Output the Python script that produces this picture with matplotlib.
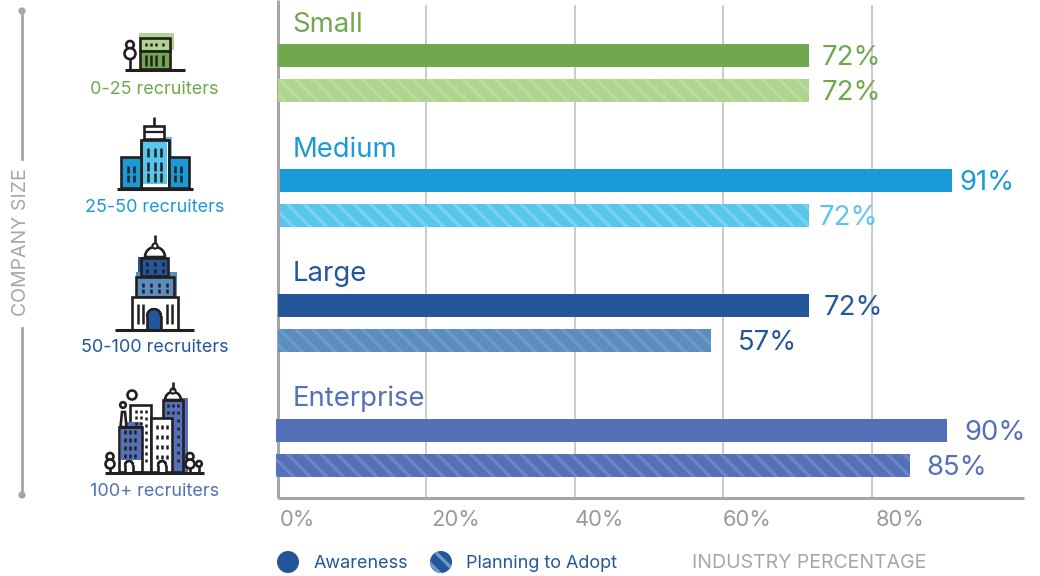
"""Recruiting tools: awareness vs planning to adopt, by company size."""
import matplotlib

matplotlib.use("Agg")

import matplotlib.pyplot as plt
from matplotlib.patches import Circle, Rectangle, Polygon, Wedge

plt.rcParams["font.family"] = ["Inter", "DejaVu Sans"]
plt.rcParams["hatch.linewidth"] = 2.4

W, H = 1040, 576

GREY = "#A6A6A6"
GRID = "#BDBDBD"
TICK = "#9A9A9A"
INK = "#231F20"
GREEN, GREEN_L, GREEN_S = "#70A84E", "#AFD48E", "#BCDBA1"
SKY, SKY_L, SKY_S = "#1A9AD7", "#58C6EC", "#79D2F0"
NAVY, NAVY_L, NAVY_S = "#23569A", "#5B8DBF", "#6F9AC6"
INDIGO, INDIGO_L, INDIGO_S = "#5470B8", "#5470B8", "#6C85C4"

# data
sizes = ["Small", "Medium", "Large", "Enterprise"]
ranges = ["0-25 recruiters", "25-50 recruiters", "50-100 recruiters", "100+ recruiters"]
awareness = [71.6, 90.8, 71.6, 90.2]
adopt = [71.6, 71.6, 58.3, 85.2]
awareness_labels = ["72%", "91%", "72%", "90%"]
adopt_labels = ["72%", "72%", "57%", "85%"]
awareness_left = [0.0, 0.25, 0.0, -0.3]
adopt_left = [0.0, 0.25, 0.0, -0.3]
ticks = [0, 20, 40, 60, 80]
tick_labels = ["0%", "20%", "40%", "60%", "80%"]

solid_colours = [GREEN, SKY, NAVY, INDIGO]
fill_colours = [GREEN_L, SKY_L, NAVY_L, INDIGO_L]
stripe_colours = [GREEN_S, SKY_S, NAVY_S, INDIGO_S]
adopt_text = [GREEN, SKY_L, NAVY, INDIGO]

fig = plt.figure(figsize=(W / 100, H / 100), dpi=100)
fig.patch.set_facecolor("white")


def fs(px):
    return px * 0.72


# chart axes: x in percent, y in groups (125 px apart)
PX_PCT = 7.42
X0, X1, Y_BOT = 278, 1024, 498
ax = fig.add_axes([X0 / W, 1 - Y_BOT / H, (X1 - X0) / W, Y_BOT / H])
ax.set_xlim(0, (X1 - X0) / PX_PCT)
ax.set_ylim((Y_BOT - 55.5) / 125, -55.5 / 125)
ax.patch.set_alpha(0)
ax.set_yticks([])
ax.set_xticks(ticks)
ax.set_xticklabels([])
ax.tick_params(axis="x", length=0)
for s in ("top", "right"):
    ax.spines[s].set_visible(False)
for s in ("left", "bottom"):
    ax.spines[s].set_color(GREY)
    ax.spines[s].set_linewidth(2.2)
    ax.spines[s].set_capstyle("butt")
for t in ticks[1:]:
    ax.plot([t, t], [-0.4, (Y_BOT - 55.5) / 125], color=GRID, lw=1.1, zorder=1,
            clip_on=False)

BAR_H = 23 / 125
GAP = 34.8 / 125
for i in range(len(sizes)):
    ax.barh(i, awareness[i] - awareness_left[i], left=awareness_left[i], height=BAR_H,
            color=solid_colours[i], zorder=3, clip_on=False)
    ax.barh(i + GAP, adopt[i] - adopt_left[i], left=adopt_left[i], height=BAR_H,
            facecolor=fill_colours[i], edgecolor=stripe_colours[i], hatch="\\\\",
            linewidth=0, zorder=3, clip_on=False)

# overlay in pixels for the text and the icons
ov = fig.add_axes([0, 0, 1, 1])
ov.set_xlim(0, W)
ov.set_ylim(H, 0)
ov.axis("off")
ov.patch.set_alpha(0)

LW = 1.9


def rect(x0, y0, x1, y1, fc="none", ec="none", lw=0.0, z=5):
    ov.add_patch(Rectangle((x0, y0), x1 - x0, y1 - y0, facecolor=fc, edgecolor=ec,
                           linewidth=lw, zorder=z))


def line(x0, y0, x1, y1, c=INK, lw=LW, z=7):
    ov.plot([x0, x1], [y0, y1], color=c, lw=lw, zorder=z, solid_capstyle="butt")


def circ(x, y, r, fc="white", ec=INK, lw=LW, z=7):
    ov.add_patch(Circle((x, y), r, facecolor=fc, edgecolor=ec, linewidth=lw, zorder=z))


def dots(xs, ys, h=3.0, lw=1.8):
    for x in xs:
        for y in ys:
            line(x, y - h / 2, x, y + h / 2, lw=lw)


def dome(x0, x1, y_top, y_bot):
    cx = (x0 + x1) / 2
    r = (x1 - x0) / 2
    ov.add_patch(Wedge((cx, y_bot), r, 180, 360, facecolor="white", edgecolor=INK,
                       linewidth=LW, zorder=7))
    line(x0, y_bot, x1, y_bot)
    circ(cx, y_bot - r - 1, 2.6, lw=1.5)


def door(cx, w, y_top, y_bot, fc="white"):
    rect(cx - w, y_top + w, cx + w, y_bot, fc=fc, z=7)
    ov.add_patch(Wedge((cx, y_top + w), w, 180, 360, facecolor=fc, zorder=7))
    line(cx - w, y_top + w, cx - w, y_bot, z=8)
    line(cx + w, y_top + w, cx + w, y_bot, z=8)
    ov.add_patch(Wedge((cx, y_top + w), w, 180, 360, width=0.1, facecolor=INK,
                       edgecolor=INK, linewidth=1.6, zorder=8))


def tree(x, y_top, r1, r2, y_base):
    line(x, y_top, x, y_base)
    circ(x, y_top + r1, r1)
    if r2:
        circ(x, y_top + 2 * r1 + r2 - 0.5, r2)


def icon_small():
    rect(139, 33, 174, 50, fc=GREEN_L, z=4)
    rect(140, 38, 170, 51, fc=GREEN_L, ec=INK, lw=LW, z=6)
    rect(140, 51, 170, 69, fc=GREEN, ec=INK, lw=LW, z=6)
    dots([146, 151, 156, 163], [44.5], h=2.5)
    dots([146, 151, 156, 163], [60.5], h=11)
    tree(130, 41, 3.8, 5.5, 69)
    line(125, 70, 185, 70, lw=2.2)


def icon_medium():
    line(154, 117, 154, 126)
    rect(144, 126, 164, 139, fc="white", ec=INK, lw=LW, z=6)
    line(144, 132, 164, 132, lw=1.6)
    rect(146, 137, 172, 186, fc=SKY_L, z=4)
    rect(141, 140, 169, 188, fc="white", ec=INK, lw=LW, z=5)
    rect(143, 138, 167, 184, fc=SKY_L, z=5)
    line(141, 140, 169, 140, z=6)
    line(141, 140, 141, 188, z=6)
    line(169, 140, 169, 188, z=6)
    rect(121, 157, 141, 188, fc=SKY, ec=INK, lw=LW, z=6)
    rect(169, 157, 189, 188, fc=SKY, ec=INK, lw=LW, z=6)
    dots([148, 154.5, 161], [152, 166, 177], h=9)
    dots([128, 134], [169, 178], h=7)
    dots([175, 181], [169, 178], h=7)
    line(117, 188.5, 193, 188.5, lw=2.2)


def icon_large():
    line(155, 235, 155, 245)
    dome(145, 165, 245, 257)
    rect(138, 257, 166, 274, fc=NAVY, z=4)
    rect(141, 258, 168, 276, fc=NAVY, ec=INK, lw=LW, z=6)
    rect(136, 272, 177, 296, fc=NAVY_L, z=4)
    rect(136, 277, 174, 297, fc=NAVY_L, ec=INK, lw=LW, z=6)
    rect(132, 297, 178, 330, fc="white", ec=INK, lw=LW, z=6)
    dots([147, 155, 163], [264, 271], h=3.5)
    dots([143, 151, 159, 167], [285, 291], h=4)
    dots([138, 143, 167, 172], [314], h=20)
    door(154, 7, 309, 330, fc=NAVY)
    line(115, 330, 194, 330, lw=2.2)


def icon_enterprise():
    rect(121, 422, 142, 460, fc=INDIGO, z=4)
    ov.add_patch(Polygon([(120.5, 427), (122, 412), (125, 412), (126.5, 427)], closed=True,
                         facecolor="white", edgecolor=INK, linewidth=LW, zorder=6))
    rect(130, 405, 151, 472, fc="white", ec=INK, lw=LW, z=5)
    rect(119, 427, 142, 472, fc="none", ec=INK, lw=LW, z=6)
    rect(121, 422, 142, 460, fc=INDIGO, z=5)
    line(119, 427, 142, 427)
    rect(172, 398, 188, 472, fc=INDIGO, z=4)
    rect(163, 400, 183, 472, fc=INDIGO, ec=INK, lw=LW, z=5)
    rect(151, 418, 172, 472, fc="white", ec=INK, lw=LW, z=6)
    dome(165, 181, 392, 400)
    line(173, 382, 173, 390)
    circ(132, 395, 4.5)
    circ(123, 405, 2.8)
    dots([125, 130, 135], [432, 440, 448, 456], h=3.2)
    dots([136, 141], [411, 417, 423], h=3)
    dots([146], [411, 418, 425, 432, 439, 446, 453, 460], h=3)
    dots([157, 162, 167], [427, 437, 447, 457], h=3.5)
    dots([168, 173], [405, 412], h=3)
    dots([178], [405, 412, 420, 428, 436, 444, 452, 460], h=3)
    door(129, 4, 461, 472)
    door(162, 4, 461, 472)
    tree(110, 453, 3.5, 4.5, 472)
    tree(190, 453, 3.5, 4.5, 472)
    tree(199, 461, 2.8, 0, 472)
    line(105, 472.5, 204, 472.5, lw=2.2)


icon_small()
icon_medium()
icon_large()
icon_enterprise()

# icon captions
caption_colours = [GREEN, SKY, NAVY, INDIGO]
caption_x = [154.5, 155, 155, 154.5]
caption_y = [90, 208, 348, 491]
for i, r in enumerate(ranges):
    ov.text(caption_x[i], caption_y[i], r, color=caption_colours[i], fontsize=fs(18),
            ha="center", va="center", zorder=9)

# series titles and value labels
title_y = [25, 150, 274, 399]
for i, s in enumerate(sizes):
    ov.text(292.5, title_y[i], s, color=solid_colours[i], fontsize=fs(27.5),
            ha="left", va="center", zorder=9)
awareness_x = [822, 959, 824, 964]
adopt_x = [822, 819, 738, 926]
for i in range(len(sizes)):
    ov.text(awareness_x[i], 58 + 125 * i, awareness_labels[i], color=solid_colours[i],
            fontsize=fs(27.5), ha="left", va="center", zorder=9)
    ov.text(adopt_x[i], 93 + 125 * i, adopt_labels[i], color=adopt_text[i],
            fontsize=fs(27.5), ha="left", va="center", zorder=9)

# x tick labels
tick_x = [280, 431, 575, 723, 876]
for x, lab in zip(tick_x, tick_labels):
    ov.text(x, 520, lab, color=TICK, fontsize=fs(22), ha="left", va="center")
ov.text(692, 563, "INDUSTRY PERCENTAGE", color=GREY, fontsize=fs(19.5), ha="left", va="center")

# company size rail
ov.text(21, 242, "COMPANY SIZE", color=GREY, fontsize=fs(19.5), rotation=90,
        ha="center", va="center")
ov.plot([22, 22], [11, 159], color=GREY, lw=2.0, zorder=2)
ov.plot([22, 22], [328, 495], color=GREY, lw=2.0, zorder=2)
circ(22, 11, 3.6, fc=GREY, ec=GREY, lw=0)
circ(22, 495, 3.6, fc=GREY, ec=GREY, lw=0)

# legend
circ(288, 562, 11, fc=NAVY, ec=NAVY, lw=0)
ov.add_patch(Circle((441, 562), 11, facecolor=NAVY, edgecolor=NAVY_S, hatch="\\\\", linewidth=0))
ov.text(314, 563, "Awareness", color=NAVY, fontsize=fs(18), ha="left", va="center")
ov.text(466, 563, "Planning to Adopt", color=NAVY, fontsize=fs(18), ha="left", va="center")

fig.savefig("out.png", dpi=100, facecolor="white")
